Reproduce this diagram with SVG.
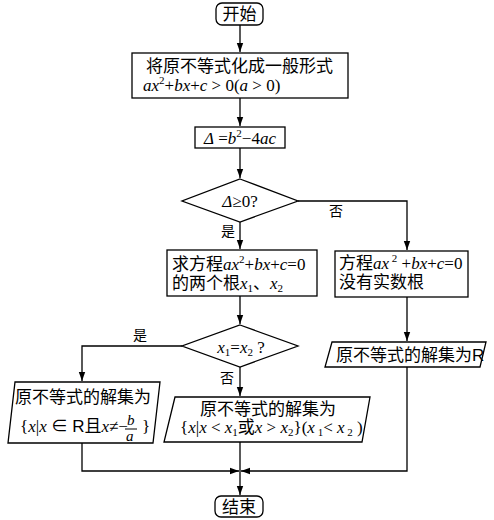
<svg xmlns="http://www.w3.org/2000/svg" width="494" height="520" viewBox="0 0 494 520">
<style>
.s{fill:#fff;stroke:#000;stroke-width:1.3}
.c{fill:none;stroke:#000;stroke-width:1.3}
text{font-family:"Liberation Serif","Noto Sans CJK SC",serif;font-size:17px;fill:#000}
.z{font-family:"Noto Sans CJK SC","Liberation Sans",sans-serif}
.i{font-style:italic;font-family:"Liberation Serif",serif}
.m{text-anchor:middle}
.l{font-family:"Noto Sans CJK SC",sans-serif;font-size:14px}
.p{font-size:11px}
</style>
<defs>
<marker id="a" markerUnits="userSpaceOnUse" markerWidth="10" markerHeight="8" refX="9" refY="4" orient="auto">
<path d="M0,0.8 L9,4 L0,7.2 Z" fill="#000"/>
</marker>
</defs>
<rect width="494" height="520" fill="#fff"/>
<g id="connectors">
<path class="c" d="M240,25 V52" marker-end="url(#a)"/>
<path class="c" d="M240,98 V126" marker-end="url(#a)"/>
<path class="c" d="M240,148 V178" marker-end="url(#a)"/>
<path class="c" d="M240,222 V249" marker-end="url(#a)"/>
<path class="c" d="M298,201 H407 V250" marker-end="url(#a)"/>
<path class="c" d="M240,296 V324" marker-end="url(#a)"/>
<path class="c" d="M407,297 V341" marker-end="url(#a)"/>
<path class="c" d="M182,346 H82 V381" marker-end="url(#a)"/>
<path class="c" d="M240,367 V396" marker-end="url(#a)"/>
<path class="c" d="M82,443 V471 H239" marker-end="url(#a)"/>
<path class="c" d="M407,367 V471 H241" marker-end="url(#a)"/>
<path class="c" d="M240,442 V495" marker-end="url(#a)"/>
<text class="l" x="336" y="216" text-anchor="middle">否</text>
<text class="l" x="228" y="236" text-anchor="middle">是</text>
<text class="l" x="140" y="340" text-anchor="middle">是</text>
<text class="l" x="227" y="383" text-anchor="middle">否</text>
</g>
<g id="start">
<rect class="s" x="216" y="3" width="47" height="22" rx="6"/>
<text class="z m" x="239.5" y="20">开始</text>
</g>
<g id="standard-form">
<rect class="s" x="132" y="53" width="216" height="45"/>
<text x="146" y="72"><tspan class="z">将原不等式化成一般形式</tspan><tspan x="143" y="91" class="i">ax</tspan><tspan class="p" dy="-7">2</tspan><tspan dy="7">+</tspan><tspan class="i">bx</tspan><tspan>+</tspan><tspan class="i">c</tspan><tspan> &gt; 0(</tspan><tspan class="i">a</tspan><tspan> &gt; 0)</tspan></text>
</g>
<g id="discriminant">
<rect class="s" x="195" y="127" width="90" height="21"/>
<text class="m" x="240" y="144"><tspan class="i">Δ</tspan> =<tspan class="i">b</tspan><tspan class="p" dy="-7">2</tspan><tspan dy="7">−4</tspan><tspan class="i">ac</tspan></text>
</g>
<g id="check-delta">
<polygon class="s" points="240,179 298,201 240,222 182,201"/>
<text class="m" x="240" y="207"><tspan class="i">Δ</tspan>≥0?</text>
</g>
<g id="solve-roots">
<rect class="s" x="167" y="250" width="150" height="46"/>
<text x="172" y="270"><tspan class="z">求方程</tspan><tspan class="i">ax</tspan><tspan class="p" dy="-7">2</tspan><tspan dy="7">+</tspan><tspan class="i">bx</tspan><tspan>+</tspan><tspan class="i">c</tspan><tspan>=0</tspan><tspan x="172" y="289" class="z">的两个根</tspan><tspan class="i">x</tspan><tspan class="p" dy="3">1</tspan><tspan class="z" dy="-3">、</tspan><tspan class="i">x</tspan><tspan class="p" dy="3">2</tspan></text>
</g>
<g id="no-roots">
<rect class="s" x="335" y="251" width="133" height="46"/>
<text x="339" y="269"><tspan class="z">方程</tspan><tspan class="i">ax</tspan><tspan class="p" dy="-7"> 2</tspan><tspan dy="7"> +</tspan><tspan class="i">bx</tspan><tspan>+</tspan><tspan class="i">c</tspan><tspan>=0</tspan><tspan x="339" y="288" class="z">没有实数根</tspan></text>
</g>
<g id="solution-R">
<polygon class="s" points="332,342 486,342 480,367 325,367"/>
<text x="336" y="361"><tspan class="z">原不等式的解集为</tspan><tspan font-family="Liberation Sans">R</tspan></text>
</g>
<g id="check-equal">
<polygon class="s" points="240,325 298,346 240,367 182,346"/>
<text class="m" x="241" y="353"><tspan class="i">x</tspan><tspan class="p" dy="3">1</tspan><tspan dy="-3">=</tspan><tspan class="i">x</tspan><tspan class="p" dy="3">2</tspan><tspan dy="-3"> ?</tspan></text>
</g>
<g id="solution-equal">
<polygon class="s" points="15,382 160,382 153,443 8,443"/>
<text x="15" y="403"><tspan class="z">原不等式的解集为</tspan><tspan x="20" y="432">{</tspan><tspan class="i">x</tspan><tspan>|</tspan><tspan class="i">x</tspan><tspan> ∈ </tspan><tspan font-family="Liberation Sans">R</tspan><tspan class="z">且</tspan><tspan class="i">x</tspan><tspan>≠−</tspan><tspan class="i" font-size="15" x="127" y="425">b</tspan><tspan class="i" font-size="15" x="126" y="441">a</tspan><tspan x="142" y="432">}</tspan></text>
<line x1="125" y1="429" x2="137" y2="429" stroke="#000" stroke-width="1"/>
</g>
<g id="solution-distinct">
<polygon class="s" points="175,397 370,397 362,442 164,442"/>
<text x="200" y="415"><tspan class="z">原不等式的解集为</tspan><tspan x="180" y="433">{</tspan><tspan class="i">x</tspan><tspan>|</tspan><tspan class="i">x</tspan><tspan> &lt; </tspan><tspan class="i">x</tspan><tspan class="p" dy="3">1</tspan><tspan class="z" dy="-3">或</tspan><tspan class="i">x</tspan><tspan> &gt; </tspan><tspan class="i">x</tspan><tspan class="p" dy="3">2</tspan><tspan dy="-3">}(</tspan><tspan class="i">x</tspan><tspan class="p" dy="3"> 1</tspan><tspan dy="-3">&lt; </tspan><tspan class="i">x</tspan><tspan class="p" dy="3"> 2</tspan><tspan dy="-3"> )</tspan></text>
</g>
<g id="end">
<rect class="s" x="215" y="496" width="48" height="21" rx="6"/>
<text class="z m" x="239" y="513">结束</text>
</g>
</svg>
